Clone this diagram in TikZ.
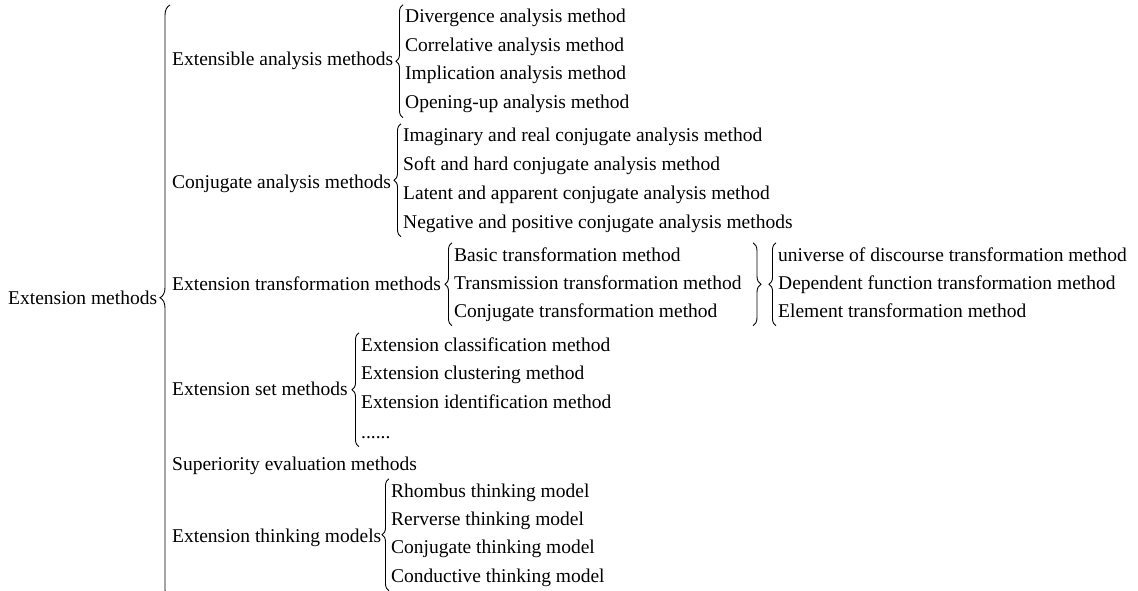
\documentclass[tikz,border=0pt]{standalone}
\usepackage{fontspec}
\setmainfont{Liberation Serif}
\usetikzlibrary{decorations.pathreplacing}

\begin{document}
\begin{tikzpicture}[x=1pt,y=1pt,font=\fontsize{19.5}{23}\selectfont,
  txt/.style={anchor=base west,inner sep=0pt,text height=14pt,text depth=4.5pt},
  brc/.style={decorate,decoration={brace,amplitude=#1},line width=0.9pt},
  brc/.default=7pt]
\useasboundingbox (0,0) rectangle (1138,-591);
% root
\node[txt] (em) at (8,-304) {Extension methods};
\coordinate (mtop) at (170,-5);
\coordinate (mbot) at (170,-600);
\draw [brc=10pt,decoration={aspect=0.508}] (mbot) -- (mtop);
% extensible analysis
\node[txt] (ea) at (172,-66) {Extensible analysis methods};
\node[txt] (ea1) at (405,-23) {Divergence analysis method};
\node[txt] (ea2) at (405,-52) {Correlative analysis method};
\node[txt] (ea3) at (405,-80) {Implication analysis method};
\node[txt] (ea4) at (405,-109) {Opening-up analysis method};
\draw [brc] ([xshift=-2pt,yshift=-4pt]ea4.south west) -- ([xshift=-2pt,yshift=4pt]ea1.north west);
% conjugate analysis
\node[txt] (ca) at (172,-189) {Conjugate analysis methods};
\node[txt] (ca1) at (403,-142) {Imaginary and real conjugate analysis method};
\node[txt] (ca2) at (403,-171) {Soft and hard conjugate analysis method};
\node[txt] (ca3) at (403,-200) {Latent and apparent conjugate analysis method};
\node[txt] (ca4) at (403,-228) {Negative and positive conjugate analysis methods};
\draw [brc] ([xshift=-2pt,yshift=-4pt]ca4.south west) -- ([xshift=-2pt,yshift=4pt]ca1.north west);
% transformation
\node[txt] (et) at (172,-290) {Extension transformation methods};
\node[txt] (et1) at (454,-261) {Basic transformation method};
\node[txt] (et2) at (454,-289) {Transmission transformation method};
\node[txt] (et3) at (454,-317) {Conjugate transformation method};
\draw [brc] ([xshift=-2pt,yshift=-4pt]et3.south west) -- ([xshift=-2pt,yshift=4pt]et1.north west);
\node[txt] (eu1) at (778,-261) {universe of discourse transformation method};
\node[txt] (eu2) at (778,-289) {Dependent function transformation method};
\node[txt] (eu3) at (778,-317) {Element transformation method};
\draw [brc=8pt] ([xshift=-25pt,yshift=4pt]eu1.north west) -- ([xshift=-25pt,yshift=-4pt]eu3.south west);
\draw [brc] ([xshift=-2pt,yshift=-4pt]eu3.south west) -- ([xshift=-2pt,yshift=4pt]eu1.north west);
% extension set
\node[txt] (es) at (172,-395) {Extension set methods};
\node[txt] (es1) at (361,-351) {Extension classification method};
\node[txt] (es2) at (361,-379) {Extension clustering method};
\node[txt] (es3) at (361,-408) {Extension identification method};
\node[txt] (es4) at (361,-438) {......};
\draw [brc] ([xshift=-2pt,yshift=-4pt]es4.south west) -- ([xshift=-2pt,yshift=4pt]es1.north west);
% superiority
\node[txt] (se) at (172,-470) {Superiority evaluation methods};
% thinking models
\node[txt] (tm) at (172,-542) {Extension thinking models};
\node[txt] (tm1) at (391,-497) {Rhombus thinking model};
\node[txt] (tm2) at (391,-525) {Rerverse thinking model};
\node[txt] (tm3) at (391,-553) {Conjugate thinking model};
\node[txt] (tm4) at (391,-582) {Conductive thinking model};
\draw [brc] ([xshift=-2pt,yshift=-4pt]tm4.south west) -- ([xshift=-2pt,yshift=4pt]tm1.north west);
\end{tikzpicture}
\end{document}
